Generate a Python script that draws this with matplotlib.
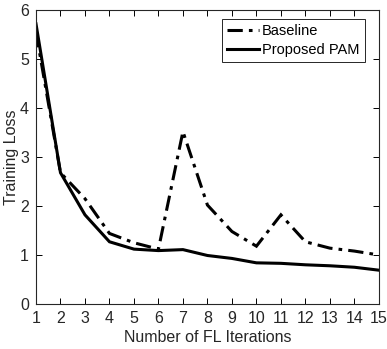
import matplotlib.pyplot as plt

plt.rcParams['font.family'] = ['Liberation Sans', 'DejaVu Sans']

iterations = list(range(1, 16))
baseline = [5.55, 2.68, 2.15, 1.44, 1.25, 1.12, 3.52, 2.02, 1.48, 1.18, 1.82, 1.27, 1.14, 1.08, 1.0]
pam = [5.72, 2.68, 1.82, 1.27, 1.12, 1.09, 1.11, 0.99, 0.93, 0.84, 0.83, 0.80, 0.78, 0.75, 0.69]

fig = plt.figure(figsize=(3.87, 3.49), dpi=100)
ax = fig.add_axes([0.093, 0.129, 0.886, 0.842])

ax.plot(iterations, baseline, color='black', linestyle=(0, (5, 2, 1.2, 2)), linewidth=2.2,
        dash_joinstyle='miter', label='Baseline')
ax.plot(iterations, pam, color='black', linestyle='-', linewidth=2.2,
        solid_joinstyle='miter', label='Proposed PAM')

ax.set_xlim(1, 15)
ax.set_ylim(0, 6)
ax.set_xticks(iterations)
ax.set_yticks(range(0, 7))
ax.tick_params(direction='in', top=True, right=True, labelsize=11.5, length=4, width=0.7,
               pad=5, labelcolor='#262626')
for s in ax.spines.values():
    s.set_linewidth(0.8)
    s.set_color('#262626')

ax.set_xlabel('Number of FL Iterations', fontsize=11.5, labelpad=3, color='#262626')
ax.set_ylabel('Training Loss', fontsize=11.5, labelpad=1, color='#262626')

leg = ax.legend(loc='upper right', bbox_to_anchor=(0.959, 0.969), fontsize=10.5,
                fancybox=False, framealpha=1, edgecolor='#262626', handlelength=2.2,
                handletextpad=0.2, borderpad=0.35, labelspacing=0.3, borderaxespad=0)
leg.get_frame().set_linewidth(0.7)

fig.savefig('out.png', dpi=100)
